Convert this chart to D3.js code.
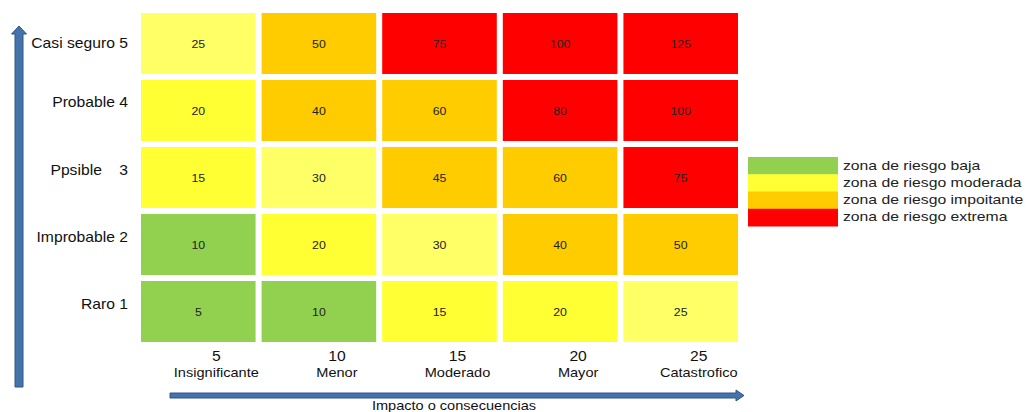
<!DOCTYPE html>
<html>
<head>
<meta charset="utf-8">
<title>matriz de riesgo</title>
<script src="https://d3js.org/d3.v7.min.js"></script>
<style>
  body { margin: 0; background: #fff; }
  text { font-family: "Liberation Sans", Arial, sans-serif; fill: #111; }
  .cell-label { font-size: 11px; fill: #222; }
  .row-label { font-size: 14px; white-space: pre; }
  .col-label { font-size: 13px; }
  .legend text { font-size: 12.5px; fill: #222; }
</style>
</head>
<body>
<script>
// data
const impactValues = [5, 10, 15, 20, 25];
const impactLabels = ["Insignificante", "Menor", "Moderado", "Mayor", "Catastrofico"];
const likelihoodLabels = ["Casi seguro 5", "Probable 4", "Ppsible    3", "Improbable 2", "Raro 1"];
const riskValues = [
  [25, 50, 75, 100, 125],
  [20, 40, 60, 80, 100],
  [15, 30, 45, 60, 75],
  [10, 20, 30, 40, 50],
  [5, 10, 15, 20, 25]
];
// zone of each cell ("moderada2" = lighter yellow shade)
const riskZones = [
  ["moderada2", "importante", "extrema", "extrema", "extrema"],
  ["moderada", "importante", "importante", "extrema", "extrema"],
  ["moderada", "moderada2", "importante", "importante", "extrema"],
  ["baja", "moderada", "moderada2", "importante", "importante"],
  ["baja", "baja", "moderada", "moderada", "moderada2"]
];
const legendZones = ["baja", "moderada", "importante", "extrema"];
const legendLabels = ["zona de riesgo baja", "zona de riesgo moderada", "zona de riesgo impoitante", "zona de riesgo extrema"];
const xTitle = "Impacto o consecuencias";

const width = 1031, height = 412;
const sx = 1.12; // horizontal stretch of the original picture

const svg = d3.select("body").append("svg")
  .attr("width", width)
  .attr("height", height);

const color = d3.scaleOrdinal()
  .domain(["baja", "moderada", "moderada2", "importante", "extrema"])
  .range(["#92D050", "#FFFF33", "#FFFF66", "#FFCC00", "#FF0000"]);

const x = d3.scaleBand()
  .domain(d3.range(impactValues.length))
  .range([141, 738])
  .paddingInner(0.05);

const y = d3.scaleBand()
  .domain(d3.range(likelihoodLabels.length))
  .range([13, 342])
  .paddingInner(0.09);

// cells
const cells = [];
riskValues.forEach((row, r) => row.forEach((v, c) => cells.push({ r, c, v, z: riskZones[r][c] })));

svg.append("g").selectAll("rect")
  .data(cells)
  .join("rect")
  .attr("x", d => x(d.c))
  .attr("y", d => y(d.r))
  .attr("width", x.bandwidth())
  .attr("height", y.bandwidth())
  .attr("fill", d => color(d.z));

svg.append("g").selectAll("text")
  .data(cells)
  .join("text")
  .attr("class", "cell-label")
  .attr("text-anchor", "middle")
  .attr("dominant-baseline", "central")
  .attr("transform", d => `translate(${x(d.c) + x.bandwidth() / 2},${y(d.r) + y.bandwidth() / 2}) scale(${sx},1)`)
  .text(d => d.v);

// row labels
svg.append("g").selectAll("text")
  .data(likelihoodLabels)
  .join("text")
  .attr("class", "row-label")
  .attr("text-anchor", "end")
  .attr("transform", (d, i) => `translate(128,${y(i) + y.bandwidth() / 2 - (i === 0 ? -5 : 3)}) scale(${sx},1)`)
  .text(d => d);

// column labels
const colG = svg.append("g").selectAll("g")
  .data(impactLabels)
  .join("g")
  .attr("transform", (d, i) => `translate(${x(i) + x.bandwidth() / 2 + 18},0)`);

colG.append("text")
  .attr("class", "col-label")
  .attr("text-anchor", "middle")
  .attr("transform", `translate(0,361) scale(${sx},1)`)
  .style("font-size", "14px")
  .text((d, i) => impactValues[i]);

colG.append("text")
  .attr("class", "col-label")
  .attr("text-anchor", "middle")
  .attr("transform", `translate(0,377) scale(${sx},1)`)
  .text(d => d);

// arrows
const arrowFill = "#4572aa", arrowStroke = "#2f5689";
svg.append("path")
  .attr("d", "M15,387 L15,34 L11.5,34 L19,26 L26.5,34 L23,34 L23,387 Z")
  .attr("fill", arrowFill)
  .attr("stroke", arrowStroke)
  .attr("stroke-width", 1);

svg.append("path")
  .attr("d", "M170,393 L736,393 L736,390 L744,395.5 L736,401 L736,398 L170,398 Z")
  .attr("fill", arrowFill)
  .attr("stroke", arrowStroke)
  .attr("stroke-width", 1);

svg.append("text")
  .attr("class", "col-label")
  .attr("text-anchor", "middle")
  .attr("transform", `translate(454,410) scale(${sx},1)`)
  .text(xTitle);

// legend
const ly = d3.scaleBand()
  .domain(legendZones)
  .range([157, 226]);

const legend = svg.append("g").attr("class", "legend");
legend.selectAll("rect")
  .data(legendZones)
  .join("rect")
  .attr("x", 748)
  .attr("y", d => ly(d))
  .attr("width", 90)
  .attr("height", ly.bandwidth() + 0.5)
  .attr("fill", d => color(d));

legend.selectAll("text")
  .data(legendZones)
  .join("text")
  .attr("transform", (d, i) => `translate(843,${ly(d) + ly.bandwidth() / 2 + 4}) scale(1.26,1)`)
  .text((d, i) => legendLabels[i]);
</script>
</body>
</html>
